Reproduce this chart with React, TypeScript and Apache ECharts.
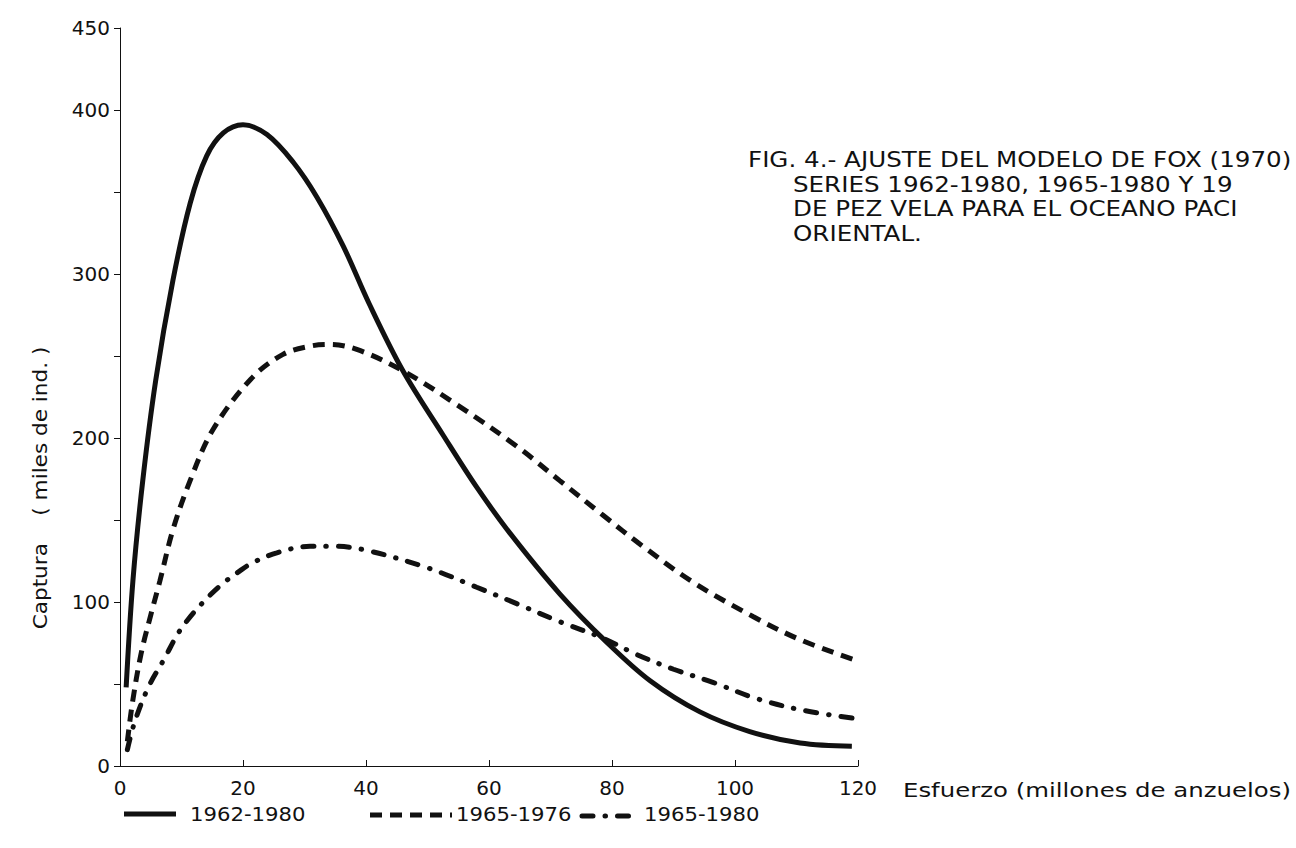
import React, { useEffect, useRef } from "react";
import * as echarts from "echarts";

// Series 1962-1980 (solid)
const effortA = [1, 2.1, 3.7, 5.8, 8.6, 11.4, 14.1, 16.8, 20, 23.9, 28.2, 32, 36.3, 40.5, 46, 52.5, 58, 63.4, 71.5, 79, 86.2, 94.3, 102.4, 110.6, 119];
const catchA = [48, 113, 174, 235, 296, 343, 372, 386, 391, 385, 368, 347, 317, 282, 241, 202, 170, 142, 105, 76, 52, 33, 21, 14, 12];

// Series 1965-1976 (dashed)
const effortB = [1.2, 2, 3.4, 5, 6.5, 8.6, 11.4, 15.1, 21.3, 26.5, 30.9, 34.1, 38.5, 46, 55.3, 64.5, 71.5, 78.5, 85, 93.2, 103, 110.6, 119.2];
const catchB = [15, 38, 68, 92, 113, 144, 174, 205, 236, 251, 256, 257, 254, 241, 219, 195, 174, 153, 134, 112, 91, 77, 65];

// Series 1965-1980 (dash-dot)
const effortC = [1.2, 2.4, 4.6, 7.3, 9.3, 11, 13.3, 16.3, 19.5, 21.6, 25.5, 30.9, 34.5, 39.5, 49.9, 58, 64.5, 71.5, 78.5, 84, 90, 96.4, 103.6, 111, 119.5];
const catchC = [10, 27, 48, 66, 80, 89, 99, 110, 119, 124, 130, 134, 134, 132, 121, 109, 99, 88, 78, 68, 59, 51, 41, 34, 29];

const seriesNames = ["1962-1980", "1965-1976", "1965-1980"];
const yLabelsShown = [0, 100, 200, 300, 400, 450];
const titleLines = [
  "FIG. 4.- AJUSTE DEL MODELO DE FOX (1970)",
  "SERIES 1962-1980, 1965-1980 Y 19",
  "DE PEZ VELA PARA EL OCEANO PACI",
  "ORIENTAL.",
];
const xAxisTitle = "Esfuerzo (millones de anzuelos)";
const yAxisTitle = "Captura    ( miles de ind. )";

const FONT = "DejaVu Sans";
const INK = "#111";

const pairs = (xs: number[], ys: number[]) => xs.map((x, i) => [x, ys[i]]);

export default function App() {
  const ref = useRef<HTMLDivElement>(null);
  useEffect(() => {
    if (!ref.current) return;
    const chart = echarts.init(ref.current, undefined, { renderer: "svg" });
    const dashB = [12, 8];
    const dashC = [11, 12, 0.5, 12];
    const legendText = (t: string, x: number) => ({
      type: "text",
      x,
      y: 814,
      scaleX: 1.06,
      style: { text: t, fill: INK, font: `20px "${FONT}"`, verticalAlign: "middle" },
    });
    chart.setOption({
      animation: false,
      backgroundColor: "#fff",
      grid: { left: 120, right: 438, top: 28, bottom: 82 },
      xAxis: {
        type: "value",
        min: 0,
        max: 120,
        interval: 20,
        axisLine: { lineStyle: { color: INK, width: 1 } },
        axisTick: { inside: true, length: 6, lineStyle: { color: INK } },
        axisLabel: { color: INK, fontFamily: FONT, fontSize: 20, margin: 12 },
        splitLine: { show: false },
      },
      yAxis: {
        type: "value",
        min: 0,
        max: 450,
        interval: 50,
        axisLine: { show: true, lineStyle: { color: INK, width: 1 } },
        axisTick: { show: true, length: 6, lineStyle: { color: INK } },
        axisLabel: {
          color: INK,
          fontFamily: FONT,
          fontSize: 20,
          margin: 10,
          formatter: (v: number) => (yLabelsShown.includes(v) ? String(v) : ""),
        },
        splitLine: { show: false },
      },
      series: [
        {
          name: seriesNames[0],
          type: "line",
          smooth: 0.35,
          showSymbol: false,
          data: pairs(effortA, catchA),
          lineStyle: { color: INK, width: 5, type: "solid" },
        },
        {
          name: seriesNames[1],
          type: "line",
          smooth: 0.35,
          showSymbol: false,
          data: pairs(effortB, catchB),
          lineStyle: { color: INK, width: 5, type: dashB, cap: "butt" },
        },
        {
          name: seriesNames[2],
          type: "line",
          smooth: 0.35,
          showSymbol: false,
          data: pairs(effortC, catchC),
          lineStyle: { color: INK, width: 5, type: dashC, cap: "round" },
        },
      ],
      graphic: [
        // Title block
        ...titleLines.map((t, i) => ({
          type: "text",
          x: i === 0 ? 748 : 793,
          y: 160 + i * 24.5,
          scaleX: 1.17,
          style: { text: t, fill: INK, font: `21px "${FONT}"`, verticalAlign: "middle" },
        })),
        // axis titles
        {
          type: "text",
          x: 903,
          y: 790,
          scaleX: 1.22,
          style: { text: xAxisTitle, fill: INK, font: `20px "${FONT}"`, verticalAlign: "middle" },
        },
        {
          type: "text",
          x: 40,
          y: 488,
          rotation: Math.PI / 2,
          scaleX: 1.08,
          style: { text: yAxisTitle, fill: INK, font: `20px "${FONT}"`, align: "center", verticalAlign: "middle" },
        },
        // legend
        {
          type: "line",
          shape: { x1: 124, y1: 814, x2: 176, y2: 814 },
          style: { stroke: INK, lineWidth: 5 },
        },
        legendText(seriesNames[0], 190),
        {
          type: "line",
          shape: { x1: 370, y1: 815, x2: 452, y2: 815 },
          style: { stroke: INK, lineWidth: 5, lineDash: dashB },
        },
        legendText(seriesNames[1], 456),
        {
          type: "line",
          shape: { x1: 582, y1: 816, x2: 640, y2: 816 },
          style: { stroke: INK, lineWidth: 5, lineDash: dashC, lineCap: "round" },
        },
        legendText(seriesNames[2], 644),
      ],
    });
    return () => chart.dispose();
  }, []);
  return (
    <div
      ref={ref}
      style={{ position: "fixed", left: 0, top: 0, width: 1296, height: 848 }}
    />
  );
}
